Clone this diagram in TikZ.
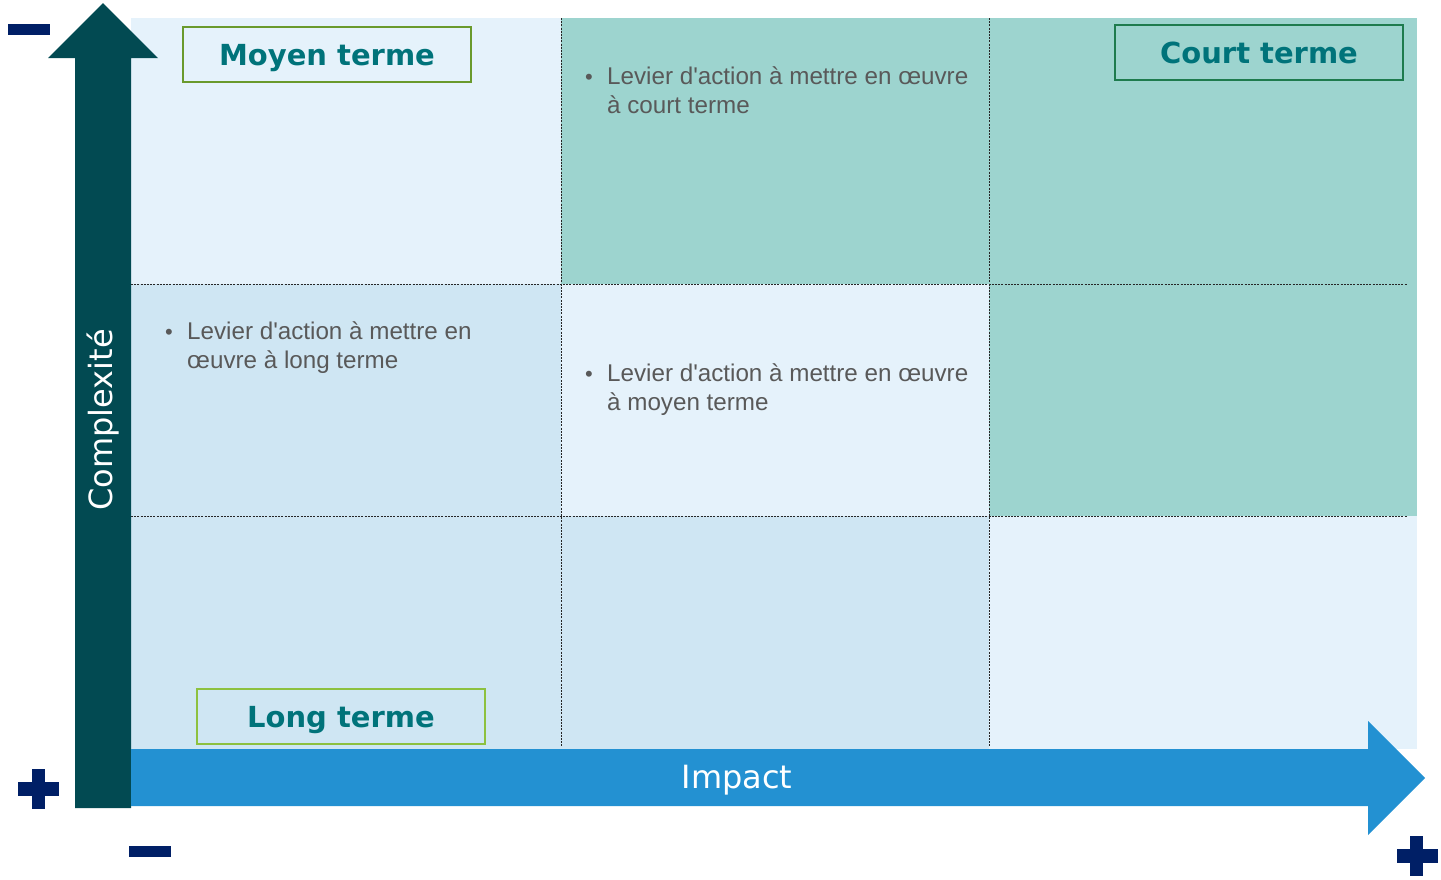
\documentclass[tikz,border=0pt]{standalone}
\usepackage{fontspec}
\setmainfont{Liberation Sans}
\newfontfamily\verd{DejaVu Sans}
\definecolor{cellpale}{HTML}{E5F2FB}
\definecolor{cellblue}{HTML}{CFE6F3}
\definecolor{cellteal}{HTML}{9DD4CF}
\definecolor{axisdark}{HTML}{024A52}
\definecolor{axisblue}{HTML}{2391D2}
\definecolor{signnavy}{HTML}{001F66}
\definecolor{titleteal}{HTML}{00737A}
\definecolor{bodygrey}{HTML}{595959}
\definecolor{frameolive}{HTML}{6A9A2C}
\definecolor{framegreen}{HTML}{1E7B4E}
\definecolor{framelime}{HTML}{8DC13F}
\newcommand\apos{\textquotesingle}
\begin{document}
\begin{tikzpicture}[x=1pt,y=-1pt,
  gridline/.style={line width=0.9pt, black!85, dash pattern=on 2pt off 1.2pt},
  termbox/.style={draw, line width=2pt, minimum width=288pt, minimum height=55pt,
    inner sep=0pt, text height=21pt, text depth=0pt, text=titleteal,
    font=\verd\bfseries\fontsize{29}{34}\selectfont},
  itemline/.style={anchor=base west, inner sep=0pt, text=bodygrey,
    font=\fontsize{24.2}{29}\selectfont},
  itembullet/.style={anchor=base west, inner sep=0pt, text=bodygrey,
    font=\fontsize{22}{29}\selectfont},
  axislabel/.style={text=white, inner sep=0pt, font=\verd\fontsize{32}{38}\selectfont},
  sign/.style={fill=signnavy, draw=none}]
\useasboundingbox (0,0) rectangle (1441,879);

% matrix cells
\fill[cellpale] (131,18) rectangle (561,284);
\fill[cellteal] (561,18) rectangle (1417,284);
\fill[cellblue] (131,284) rectangle (561,516);
\fill[cellpale] (561,284) rectangle (989,516);
\fill[cellteal] (989,284) rectangle (1417,516);
\fill[cellblue] (131,516) rectangle (989,749);
\fill[cellpale] (989,516) rectangle (1417,749);

% dotted separators
\draw[gridline] (131,284) -- (1407,284);
\draw[gridline] (131,516) -- (1407,516);
\draw[gridline] (561,18) -- (561,746);
\draw[gridline] (989,18) -- (989,746);

% vertical axis arrow (complexity)
\fill[axisdark] (75,808) -- (75,58) -- (48,58) -- (103,3) -- (158,58) -- (131,58) -- (131,808) -- cycle;
% horizontal axis arrow (impact)
\fill[axisblue] (131,749) -- (1368,749) -- (1368,721) -- (1425,778) -- (1368,835) -- (1368,806) -- (131,806) -- cycle;

\node[axislabel, rotate=90] (cplx) at (103,420) {Complexité};
\node[axislabel] (impact) at (737,780) {Impact};

% minus / plus signs
\fill[sign] (8,24) rectangle (50,35);
\fill[sign] (129,846) rectangle (171,857);
\fill[sign] (18,782) rectangle (59,796);
\fill[sign] (32,769) rectangle (45,809);
\fill[sign] (1397,849) rectangle (1438,863);
\fill[sign] (1410,836) rectangle (1423,876);

% horizon labels
\node[termbox, draw=frameolive] (moyen) at (327,54.5) {Moyen terme};
\node[termbox, draw=framegreen] (court) at (1259,52.5) {Court terme};
\node[termbox, draw=framelime] (long) at (341,716.5) {Long terme};

% bullet items
\node[itembullet] (b1) at (585,84) {•};
\node[itemline] (t1a) at (607,84) {Levier d\apos action à mettre en œuvre};
\node[itemline] (t1b) at (607,113) {à court terme};

\node[itembullet] (b2) at (165,339) {•};
\node[itemline] (t2a) at (187,339) {Levier d\apos action à mettre en};
\node[itemline] (t2b) at (187,368.5) {œuvre à long terme};

\node[itembullet] (b3) at (585,381) {•};
\node[itemline] (t3a) at (607,381) {Levier d\apos action à mettre en œuvre};
\node[itemline] (t3b) at (607,410) {à moyen terme};
\end{tikzpicture}
\end{document}
